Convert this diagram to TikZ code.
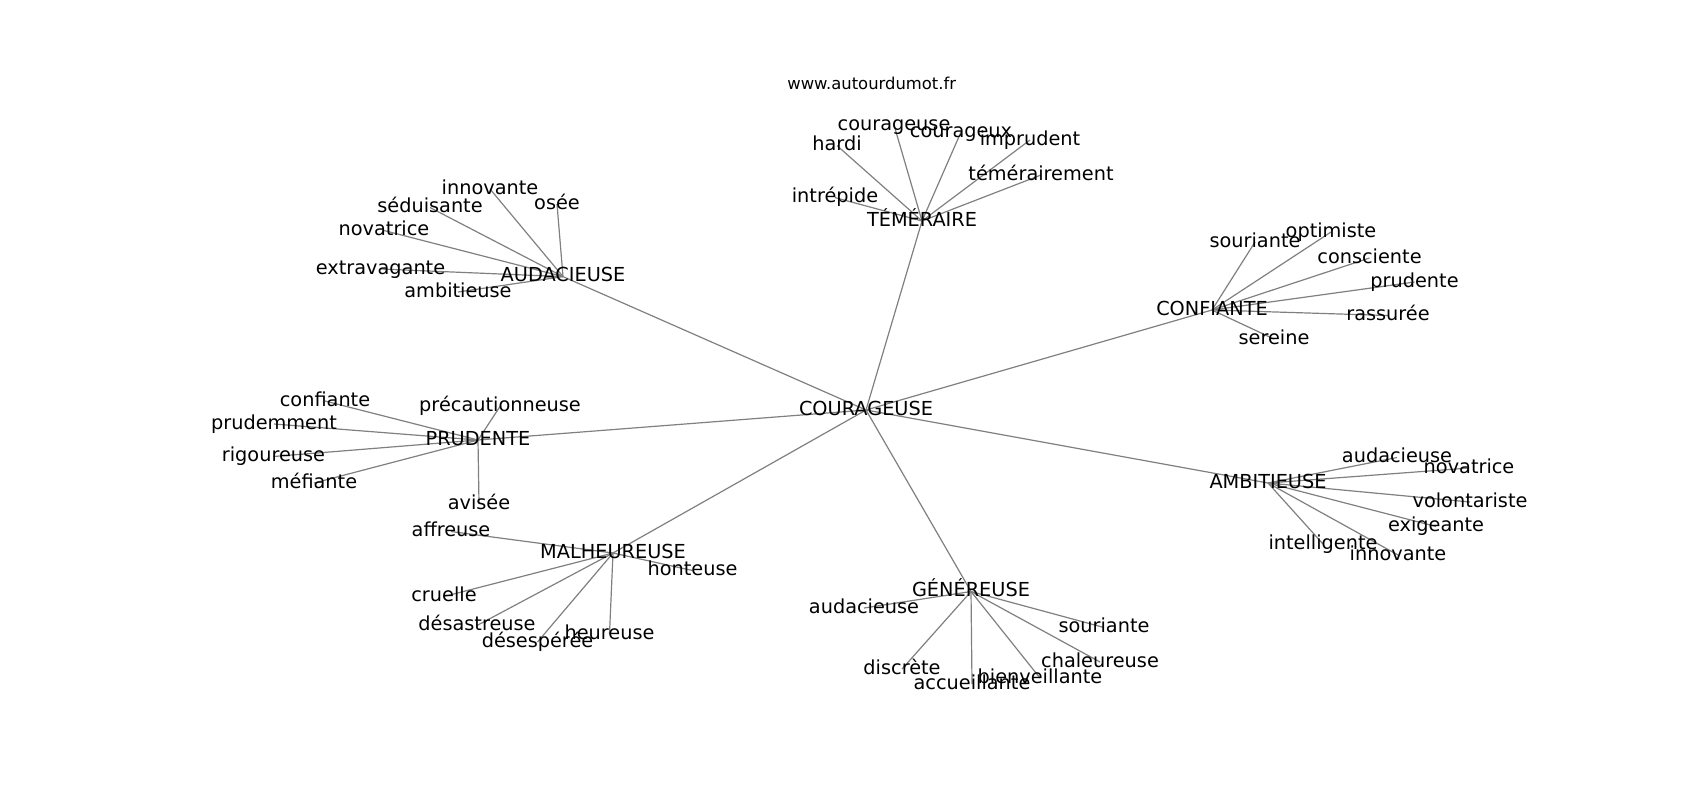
\documentclass[tikz,border=0pt]{standalone}
\usepackage{fontspec}
\setmainfont{DejaVu Sans}
\usetikzlibrary{backgrounds}
\tikzset{
  lbl/.style={font=\fontsize{9.65}{10}\selectfont, inner sep=0pt, text height=0.76em, text depth=0.24em, anchor=center},
  ttl/.style={font=\fontsize{8.2}{9}\selectfont, inner sep=0pt, text height=0.76em, text depth=0.24em, anchor=center},
  edge/.style={draw=gray, line width=0.6pt}
}
\begin{document}
\begin{tikzpicture}[x=0.5pt,y=-0.5pt]
\useasboundingbox (0,0) rectangle (1700,800);
\node[ttl] (www) at (871.7,84) {www.autourdumot.fr};
% center
\node[lbl] (c) at (866,410) {COURAGEUSE};
% hubs
\node[lbl] (au) at (563,276.6) {AUDACIEUSE};
\node[lbl] (te) at (922,221) {TÉMÉRAIRE};
\node[lbl] (cf) at (1212,310) {CONFIANTE};
\node[lbl] (pr) at (478,440) {PRUDENTE};
\node[lbl] (ma) at (613,553) {MALHEUREUSE};
\node[lbl] (ge) at (971,591.5) {GÉNÉREUSE};
\node[lbl] (am) at (1268,483) {AMBITIEUSE};
% audacieuse
\node[lbl] (au1) at (490,189) {innovante};
\node[lbl] (au2) at (557,204) {osée};
\node[lbl] (au3) at (430,207.5) {séduisante};
\node[lbl] (au4) at (384,230.5) {novatrice};
\node[lbl] (au5) at (380.5,269) {extravagante};
\node[lbl] (au6) at (458,292) {ambitieuse};
% temeraire
\node[lbl] (te1) at (894,125) {courageuse};
\node[lbl] (te2) at (961,132) {courageux};
\node[lbl] (te3) at (837,145.6) {hardi};
\node[lbl] (te4) at (1030,140) {imprudent};
\node[lbl] (te5) at (1041,175) {témérairement};
\node[lbl] (te6) at (835,197.6) {intrépide};
% confiante
\node[lbl] (cf1) at (1255,242) {souriante};
\node[lbl] (cf2) at (1331,232) {optimiste};
\node[lbl] (cf3) at (1369.5,258) {consciente};
\node[lbl] (cf4) at (1414.5,282) {prudente};
\node[lbl] (cf5) at (1388,315.5) {rassurée};
\node[lbl] (cf6) at (1274,339) {sereine};
% prudente
\node[lbl] (pr1) at (325,401) {confiante};
\node[lbl] (pr2) at (500,406.5) {précautionneuse};
\node[lbl] (pr3) at (274,424) {prudemment};
\node[lbl] (pr4) at (273.5,456.5) {rigoureuse};
\node[lbl] (pr5) at (314,483) {méfiante};
\node[lbl] (pr6) at (479,504) {avisée};
% malheureuse
\node[lbl] (ma1) at (451,531.5) {affreuse};
\node[lbl] (ma2) at (692.5,570.5) {honteuse};
\node[lbl] (ma3) at (444,596.5) {cruelle};
\node[lbl] (ma4) at (477,625.5) {désastreuse};
\node[lbl] (ma5) at (537.5,642) {désespérée};
\node[lbl] (ma6) at (609.5,634) {heureuse};
% genereuse
\node[lbl] (ge1) at (864,608) {audacieuse};
\node[lbl] (ge2) at (1104,627.5) {souriante};
\node[lbl] (ge3) at (1100,662) {chaleureuse};
\node[lbl] (ge4) at (902,669) {discrète};
\node[lbl] (ge5) at (972,684) {accueillante};
\node[lbl] (ge6) at (1040,678) {bienveillante};
% ambitieuse
\node[lbl] (am1) at (1397,457.5) {audacieuse};
\node[lbl] (am2) at (1469,468) {novatrice};
\node[lbl] (am3) at (1470,502) {volontariste};
\node[lbl] (am4) at (1436,526.5) {exigeante};
\node[lbl] (am5) at (1323,544) {intelligente};
\node[lbl] (am6) at (1398,555) {innovante};
\begin{pgfonlayer}{background}
\fill[white] (0,0) rectangle (1700,800);
\foreach \h in {au,te,cf,pr,ma,ge,am}{
  \draw[edge] (c.center) -- (\h.center);
  \foreach \i in {1,...,6}{
    \draw[edge] (\h.center) -- (\h\i.center);
  }
}
\end{pgfonlayer}
\end{tikzpicture}
\end{document}
